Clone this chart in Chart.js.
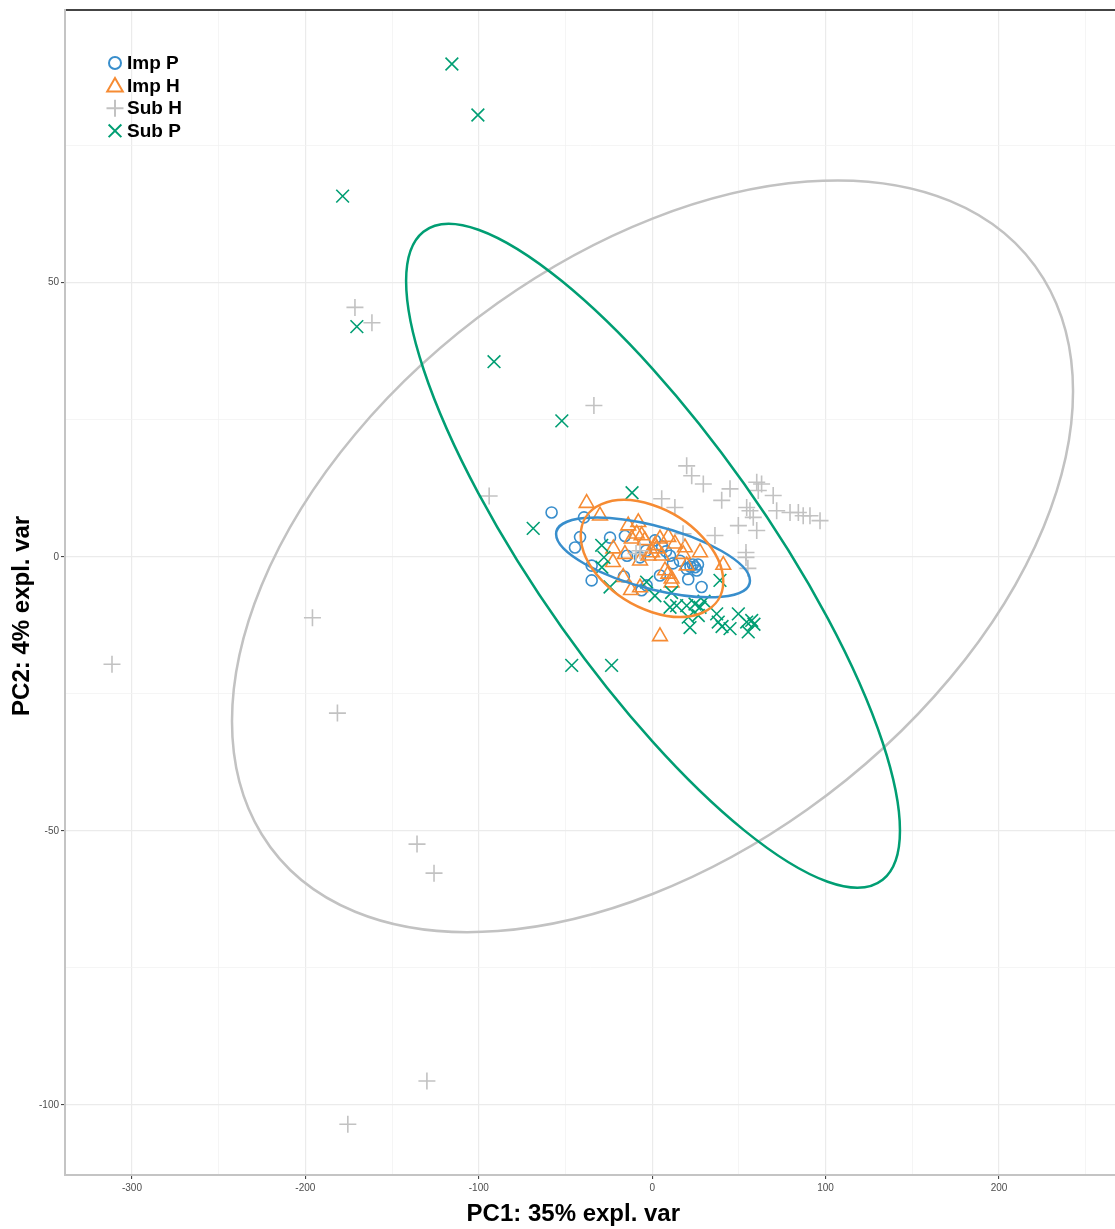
<!DOCTYPE html>
<html>
<head>
<meta charset="utf-8">
<script src="https://cdn.jsdelivr.net/npm/chart.js@4.4.1/dist/chart.umd.min.js"></script>
<style>
  html, body { margin: 0; padding: 0; background: #fff; overflow: hidden; }
  #pcaChart { display: block; }
</style>
</head>
<body>
<canvas id="pcaChart" width="1115" height="1229"></canvas>
<script>
// groups, in legend order
const groups = ['Imp P', 'Imp H', 'Sub H', 'Sub P'];
const groupColors = ['#388ECC', '#F68B33', '#C2C2C2', '#009E73'];
const groupShapes = ['circle', 'triangle', 'cross', 'crossRot'];

// PC1 / PC2 scores
const impP = [[-58.0, 8.1], [-39.3, 7.2], [-41.6, 3.6], [-44.5, 1.7], [-34.9, -1.6], [-34.9, -4.3],
  [-24.3, 3.5], [-15.7, 3.8], [-16.3, -3.6], [-6.1, -6.1], [-7.0, -0.1], [-14.5, 0.2], [1.6, 3.0],
  [5.7, 1.9], [-3.6, 1.1], [10.3, 0.2], [16.0, -0.7], [19.9, -2.2], [20.8, -4.1], [24.7, -1.9],
  [25.7, -2.5], [23.5, -1.4], [22.1, -1.8], [26.4, -1.4], [28.5, -5.5], [-3.2, -5.2], [4.5, -3.4],
  [12.0, -1.2], [8.0, 1.0]];
const impH = [[-37.8, 9.8], [-30.1, 7.5], [-22.4, 1.5], [-22.6, -1.0], [-15.7, 0.5], [-13.8, 5.7],
  [-8.0, 6.3], [-8.9, 4.2], [-6.1, 3.9], [-11.8, 3.3], [-4.2, 3.0], [4.5, 3.3], [9.3, 3.6], [13.1, 2.4],
  [18.9, 1.7], [2.6, 1.5], [-2.2, 0.2], [-0.1, 0.8], [5.5, 0.2], [-7.0, -0.7], [-16.7, -3.7], [7.4, -2.5],
  [9.3, -3.1], [11.2, -4.0], [11.2, -4.7], [17.9, 0.5], [19.9, -1.6], [27.6, 0.8], [41.0, -1.5],
  [-7.0, -5.6], [-12.2, -6.1], [4.5, -14.5], [1.6, 2.1]];
const subH = [[-311.5, -19.6], [-195.9, -11.1], [-181.5, -28.5], [-171.4, 45.5], [-161.6, 42.7],
  [-94.0, 11.1], [-33.6, 27.6], [-135.6, -52.4], [-125.8, -57.7], [-129.9, -95.6], [-175.5, -103.5],
  [19.9, 16.6], [22.8, 14.8], [29.5, 13.3], [5.5, 10.6], [13.1, 9.0], [44.9, 12.4], [40.1, 10.3],
  [60.3, 13.6], [63.1, 13.3], [61.2, 12.1], [69.8, 11.2], [54.5, 9.0], [56.4, 8.4], [58.3, 7.2],
  [71.8, 8.4], [79.5, 8.1], [84.3, 8.1], [87.1, 7.5], [91.0, 7.5], [96.8, 6.6], [49.7, 5.7], [60.3, 4.8],
  [36.2, 3.9], [54.1, 0.8], [54.1, -0.1], [55.2, -2.1], [17.8, 4.2], [-7.0, 1.1], [-9.3, 0.6]];
const subP = [[-115.5, 89.9], [-100.5, 80.6], [-178.5, 65.8], [-170.3, 42.0], [-91.2, 35.6],
  [-52.1, 24.8], [-68.6, 5.2], [-11.6, 11.7], [-46.4, -19.8], [-23.4, -19.8],
  [-29.1, 2.1], [-27.8, -0.1], [-29.0, -1.9], [-24.3, -5.5], [-3.2, -4.6], [1.6, -7.1], [10.3, -9.2],
  [11.2, -6.5], [14.1, -8.9], [19.9, -8.9], [24.7, -8.6], [27.6, -9.2], [29.9, -8.1], [20.8, -11.0],
  [21.8, -12.9], [26.6, -10.7], [37.2, -10.4], [38.1, -11.9], [40.3, -12.7], [44.9, -13.1],
  [49.7, -10.4], [54.5, -11.9], [57.4, -11.6], [55.4, -13.7], [58.7, -12.3], [39.1, -4.3]];
const groupScores = [impP, impH, subH, subP];

// confidence ellipses: centre, rightmost point, point straight above centre
const ellipseCentres = [[0.5, -0.1], [-0.1, -0.3], [0.2, 0.1], [0.5, 0.2]];
const ellipseRight = [[56.4, -4.35], [41.0, -4.5], [242.7, 30.2], [142.9, -49.9]];
const ellipseTop = [[0.5, 5.8], [-0.1, 9.5], [0.2, 61.7], [0.5, 34.2]];

// axes
const xRange = [-338.6, 266.9];
const yRange = [-112.76, 99.75];
const xGridValues = [-300, -250, -200, -150, -100, -50, 0, 50, 100, 150, 200, 250];
const yGridValues = [-100, -75, -50, -25, 0, 25, 50, 75];
const xLabelStep = 100;
const yLabelStep = 50;

const FONT = "'Liberation Sans', Arial, sans-serif";
const pointSizes = { circle: 5.5, triangle: 8.5, cross: 8.5, crossRot: 9 };

const ellipsePlugin = {
  id: 'ellipses',
  afterDatasetsDraw(chart) {
    const { ctx, chartArea, scales: { x, y } } = chart;
    ctx.save();
    ctx.beginPath();
    ctx.rect(chartArea.left, chartArea.top, chartArea.right - chartArea.left, chartArea.bottom - chartArea.top);
    ctx.clip();
    groups.forEach((g, i) => {
      const cx = x.getPixelForValue(ellipseCentres[i][0]);
      const cy = y.getPixelForValue(ellipseCentres[i][1]);
      const rx = x.getPixelForValue(ellipseRight[i][0]) - cx;
      const ry = y.getPixelForValue(ellipseRight[i][1]) - cy;
      const tx = x.getPixelForValue(ellipseTop[i][0]) - cx;
      const ty = y.getPixelForValue(ellipseTop[i][1]) - cy;
      ctx.save();
      ctx.beginPath();
      ctx.transform(rx, ry, tx, ty, cx, cy);
      ctx.arc(0, 0, 1, 0, Math.PI * 2);
      ctx.restore();
      ctx.strokeStyle = groupColors[i];
      ctx.lineWidth = 2.5;
      ctx.stroke();
    });
    ctx.restore();
  }
};

const legendPlugin = {
  id: 'insideLegend',
  afterDraw(chart) {
    const { ctx, chartArea } = chart;
    ctx.save();
    groups.forEach((g, i) => {
      const cy = chartArea.top + 53 + i * 22.6;
      const cx = chartArea.left + 50;
      ctx.strokeStyle = groupColors[i];
      ctx.fillStyle = 'rgba(0,0,0,0)';
      ctx.lineWidth = 2;
      const shape = groupShapes[i];
      Chart.helpers.drawPoint(ctx, {
        pointStyle: shape,
        radius: shape === 'circle' ? 6 : shape === 'triangle' ? 9 : shape === 'cross' ? 8.5 : 9,
        rotation: 0,
        borderWidth: 2
      }, cx, cy + (shape === 'triangle' ? 1.5 : 0));
      ctx.fillStyle = '#000';
      ctx.font = 'bold 19px ' + FONT;
      ctx.textBaseline = 'middle';
      ctx.textAlign = 'left';
      ctx.fillText(g, chartArea.left + 62, cy + 1);
    });
    ctx.restore();
  }
};

const datasets = groups.map((g, i) => ({
  label: g,
  data: groupScores[i].map(([px, py]) => ({ x: px, y: py })),
  pointStyle: groupShapes[i],
  pointRadius: pointSizes[groupShapes[i]],
  pointHoverRadius: pointSizes[groupShapes[i]],
  pointBorderColor: groupColors[i],
  pointBackgroundColor: 'rgba(0,0,0,0)',
  pointBorderWidth: 1.6,
  showLine: false,
  order: groups.length - i
}));

function gridStyle(step) {
  return {
    color: ctx => ctx.tick && ctx.tick.value % step === 0 ? '#ebebeb' : '#f2f2f2',
    lineWidth: ctx => ctx.tick && ctx.tick.value % step === 0 ? 1.2 : 0.8,
    tickColor: ctx => ctx.tick && ctx.tick.value % step === 0 ? '#333333' : 'rgba(0,0,0,0)',
    tickLength: 4,
    tickWidth: 1
  };
}

new Chart(document.getElementById('pcaChart'), {
  type: 'scatter',
  data: { datasets },
  options: {
    responsive: false,
    maintainAspectRatio: false,
    devicePixelRatio: 1,
    animation: false,
    events: [],
    layout: { autoPadding: false, padding: { top: 10, right: 0, bottom: 0, left: 0 } },
    plugins: {
      legend: { display: false },
      tooltip: { enabled: false }
    },
    scales: {
      x: {
        type: 'linear',
        position: 'bottom',
        min: xRange[0],
        max: xRange[1],
        afterBuildTicks: s => { s.ticks = xGridValues.map(v => ({ value: v })); },
        afterFit: s => { s.height = 54; },
        ticks: {
          autoSkip: false,
          maxRotation: 0,
          padding: 3,
          color: '#4d4d4d',
          font: { family: FONT, size: 10 },
          callback: v => (v % xLabelStep === 0 ? String(v) : '')
        },
        grid: gridStyle(xLabelStep),
        border: { color: '#c4c4c4', width: 2 },
        title: {
          display: true,
          text: 'PC1: 35% expl. var     ',
          color: '#000',
          font: { family: FONT, size: 24, weight: 'bold' },
          padding: { top: 0, bottom: 0 }
        }
      },
      x2: {
        type: 'linear',
        position: 'top',
        min: xRange[0],
        max: xRange[1],
        afterFit: s => { s.height = 0; },
        ticks: { display: false },
        grid: { display: false, drawTicks: false },
        border: { color: '#444444', width: 2 }
      },
      y: {
        type: 'linear',
        min: yRange[0],
        max: yRange[1],
        afterBuildTicks: s => { s.ticks = yGridValues.map(v => ({ value: v })); },
        afterFit: s => { s.width = 65; },
        ticks: {
          autoSkip: false,
          padding: 2,
          color: '#4d4d4d',
          font: { family: FONT, size: 10 },
          callback: v => (v % yLabelStep === 0 ? String(v) : '')
        },
        grid: gridStyle(yLabelStep),
        border: { color: '#c4c4c4', width: 2 },
        title: {
          display: true,
          text: 'PC2: 4% expl. var       ',
          color: '#000',
          font: { family: FONT, size: 24, weight: 'bold' },
          padding: { top: 8, bottom: 0 }
        }
      }
    }
  },
  plugins: [ellipsePlugin, legendPlugin]
});
</script>
</body>
</html>
